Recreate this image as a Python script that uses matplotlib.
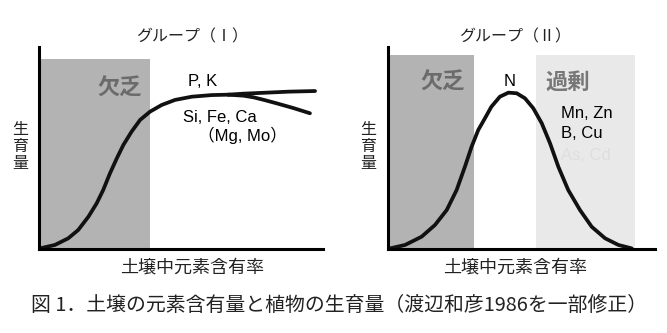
import matplotlib
matplotlib.use('Agg')
from matplotlib import pyplot as plt
from matplotlib.patches import Rectangle

plt.rcParams['font.family'] = ['Noto Sans CJK JP', 'DejaVu Sans']

# group I: content vs growth (arbitrary units 0-100)
g1_x = [0.3, 5.6, 10.3, 13.8, 17.4, 20.3, 22.6, 25.0, 27.4, 29.7, 32.6, 35.6,
        39.1, 43.2, 47.9, 53.8, 60.8, 66.7]
g1_y = [0.3, 2.0, 5.3, 9.4, 16.0, 22.6, 29.2, 37.5, 44.9, 51.5, 58.1, 63.9,
        68.0, 71.3, 73.8, 75.4, 76.2, 76.4]
g1_upper_x = [66.7, 72.0, 80.2, 88.0, 97.2]
g1_upper_y = [76.4, 76.9, 77.4, 77.9, 78.2]
g1_lower_x = [66.7, 72.0, 75.5, 79.5, 83.7, 89.5, 95.4]
g1_lower_y = [76.4, 75.9, 75.1, 73.7, 72.1, 69.8, 67.2]
g1_deficit = (0, 39.1)

# group II
g2_x = [0.75, 6.4, 12.6, 17.6, 22.0, 25.7, 28.8, 31.3, 33.8, 36.3, 38.7, 41.9,
        45.1, 48.2, 51.3, 54.4, 57.6, 60.7, 63.8, 67.5, 71.9, 76.3, 81.3, 86.3, 91.3]
g2_y = [0.3, 2.0, 6.1, 11.9, 19.3, 29.2, 40.7, 50.6, 58.9, 64.7, 70.4, 75.4,
        77.4, 77.1, 74.6, 69.7, 62.2, 52.3, 40.7, 29.2, 19.3, 11.0, 5.3, 2.0, 0.3]
g2_deficit = (0, 32.2)
g2_excess = (55.4, 92.5)

fig = plt.figure(figsize=(6.67, 3.33), dpi=100)


def px_axes(x0, x1, y0, y1):
    W, H = 667, 333
    return fig.add_axes([x0 / W, 1 - y1 / H, (x1 - x0) / W, (y1 - y0) / H])


def style(ax):
    ax.set_xlim(0, 100)
    ax.set_ylim(0, 100)
    for s in ['top', 'right']:
        ax.spines[s].set_visible(False)
    for s in ['left', 'bottom']:
        ax.spines[s].set_linewidth(2.2)
        ax.spines[s].set_color('black')
    ax.set_xticks([])
    ax.set_yticks([])
    ax.patch.set_alpha(0)


latin = ['Liberation Sans', 'Noto Sans CJK JP']
kw = dict(color='#111111', lw=2.7, solid_capstyle='round', solid_joinstyle='round')

# ---- group I
ax1 = px_axes(39, 323, 47, 249)
style(ax1)
ax1.add_patch(Rectangle((g1_deficit[0], 0), g1_deficit[1] - g1_deficit[0], 94,
                        color='#b3b3b3', lw=0, zorder=0))
ax1.plot(g1_x, g1_y, **kw)
ax1.plot(g1_upper_x, g1_upper_y, **kw)
ax1.plot(g1_lower_x, g1_lower_y, **kw)
ax1.text(28.5, 79.5, '欠乏', ha='center', va='center', fontsize=16,
         fontweight='bold', color='#6b6b6b')
ax1.text(57.7, 82.7, 'P, K', ha='center', va='center', fontsize=12, family=latin)
ax1.text(50.7, 65.3, 'Si, Fe, Ca', ha='left', va='center', fontsize=12, family=latin)
ax1.text(71.5, 56.4, '（Mg, Mo）', ha='center', va='center', fontsize=12, family=latin)

# ---- group II
ax2 = px_axes(388, 655, 47, 249)
style(ax2)
ax2.add_patch(Rectangle((g2_deficit[0], 0), g2_deficit[1] - g2_deficit[0], 96,
                        color='#b3b3b3', lw=0, zorder=0))
ax2.add_patch(Rectangle((g2_excess[0], 0), g2_excess[1] - g2_excess[0], 96,
                        color='#e9e9e9', lw=0, zorder=0))
ax2.plot(g2_x, g2_y, **kw)
ax2.text(20.6, 82.7, '欠乏', ha='center', va='center', fontsize=16,
         fontweight='bold', color='#6b6b6b')
ax2.text(45.7, 82.7, 'N', ha='center', va='center', fontsize=12, family=latin)
ax2.text(67.4, 82.7, '過剰', ha='center', va='center', fontsize=16,
         fontweight='bold', color='#777777')
ax2.text(64.8, 67.3, 'Mn, Zn', ha='left', va='center', fontsize=12, family=latin)
ax2.text(64.8, 57.4, 'B, Cu', ha='left', va='center', fontsize=12, family=latin)
ax2.text(64.8, 46.5, 'As, Cd', ha='left', va='center', fontsize=12,
         family=latin, color='#dedede')


# titles and axis labels (figure pixel positions)
def ftext(x, y, s, **k):
    fig.text(x / 667, 1 - y / 333, s, ha='center', va='center', **k)


ftext(192, 37, 'グループ（Ⅰ）', fontsize=11.5, color='#222222')
ftext(515, 37, 'グループ（Ⅱ）', fontsize=11.5, color='#222222')
ftext(20, 147, '生\n育\n量', fontsize=11.5, color='#222222', linespacing=1.0)
ftext(368, 147, '生\n育\n量', fontsize=11.5, color='#222222', linespacing=1.0)
ftext(192, 267, '土壌中元素含有率', fontsize=13, color='#222222')
ftext(515, 267, '土壌中元素含有率', fontsize=13, color='#222222')
ftext(339, 305, '図 1．土壌の元素含有量と植物の生育量（渡辺和彦1986を一部修正）',
      fontsize=14.3, color='#222222')

fig.savefig('out.png', dpi=100)
